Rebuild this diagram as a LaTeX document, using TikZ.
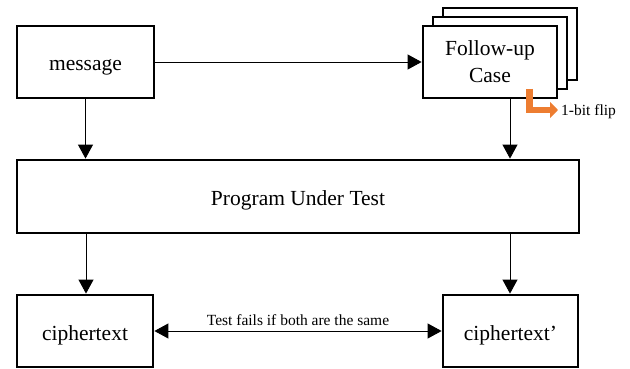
\documentclass[tikz,border=0pt]{standalone}
\usepackage{fontspec}
\setmainfont{Liberation Serif}
\usetikzlibrary{arrows.meta}
\definecolor{flip}{RGB}{237,125,49}
\begin{document}
\begin{tikzpicture}[x=1pt,y=-1pt,
  box/.style={draw=black,line width=2.8pt,fill=white,inner sep=0pt,font=\fontsize{21.5}{27}\selectfont,align=center},
  onel/.style={text height=18pt,text depth=0pt},
  conn/.style={line width=0.9pt,-{Triangle[length=14pt,width=15pt]}},
  lbl/.style={font=\fontsize{15.5}{18}\selectfont,inner sep=1pt}]
\useasboundingbox (0,0) rectangle (630,369);
% message
\node[box,onel,minimum width=137pt,minimum height=72pt] (msg) at (85.5,62) {message};
% stacked follow-up
\node[box,minimum width=134pt,minimum height=72pt] (fu3) at (510,44) {};
\node[box,minimum width=134pt,minimum height=72pt] (fu2) at (500,53) {};
\node[box,minimum width=134pt,minimum height=72pt] (fu) at (490,62) {Follow-up\\Case};
% program under test
\node[box,onel,minimum width=562pt,minimum height=73pt] (put) at (298,196.5) {Program Under Test};
% ciphertexts
\node[box,onel,minimum width=136pt,minimum height=72pt] (c1) at (85,331) {ciphertext};
\node[box,onel,minimum width=135pt,minimum height=72pt] (c2) at (510.5,331) {ciphertext'};
% connectors
\draw[conn] (msg.east) -- (fu.west);
\draw[conn] (msg.south) -- (msg.south |- put.north);
\draw[conn] (fu.south -| 510,0) -- (510,0 |- put.north);
\draw[conn] (put.south -| 86,0) -- (86,0 |- c1.north);
\draw[conn] (put.south -| 510,0) -- (510,0 |- c2.north);
\draw[line width=0.9pt,{Triangle[length=14pt,width=15pt]}-{Triangle[length=14pt,width=15pt]}] (c1.east) -- node[lbl,above=3.5pt] (tl) {Test fails if both are the same} (c2.west);
% 1-bit flip
\coordinate (f0) at (529.5,89);
\coordinate (f1) at (529.5,110);
\coordinate (f2) at (558,110);
\node[lbl,anchor=west] (flip) at (560,112) {1-bit flip};
\draw[flip,line width=6.5pt,-{Triangle[length=8pt,width=16pt]}] (f0) -- (f1) -- (f2);
\end{tikzpicture}
\end{document}
